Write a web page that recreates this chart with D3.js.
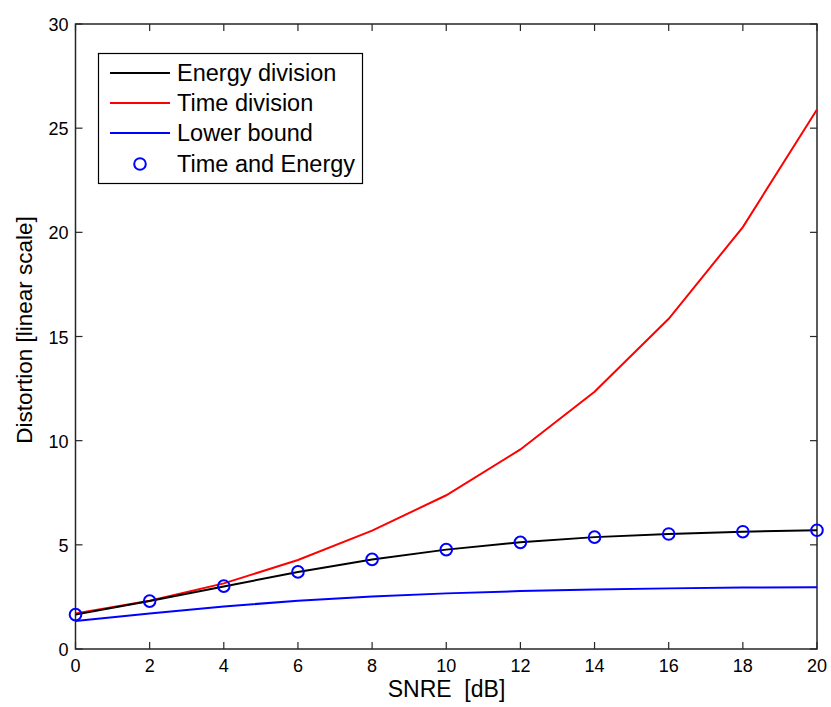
<!DOCTYPE html>
<html><head><meta charset="utf-8">
<script src="https://cdn.jsdelivr.net/npm/d3@7"></script>
<style>body{margin:0;background:#fff}svg{display:block}text{font-family:"Liberation Sans",Arial,sans-serif}</style>
</head><body>
<script>
const snre = [0,2,4,6,8,10,12,14,16,18,20];
const energyDivision = [1.65,2.3,3.0,3.7,4.3,4.77,5.12,5.37,5.52,5.63,5.7];
const timeDivision = [1.7,2.32,3.15,4.27,5.68,7.38,9.58,12.35,15.85,20.25,25.9];
const lowerBound = [1.34,1.7,2.04,2.32,2.52,2.67,2.78,2.86,2.91,2.95,2.97];
const timeAndEnergy = [1.65,2.3,3.02,3.7,4.3,4.77,5.12,5.37,5.52,5.63,5.7];
const xTicks = [0,2,4,6,8,10,12,14,16,18,20];
const yTicks = [0,5,10,15,20,25,30];
const legendLabels = ["Energy division","Time division","Lower bound","Time and Energy"];

const W=831,H=707;
const L=75.5,R=817,T=24,B=649;
const svg=d3.select("body").append("svg").attr("width",W).attr("height",H);
const x=d3.scaleLinear().domain([0,20]).range([L,R]);
const y=d3.scaleLinear().domain([0,30]).range([B,T]);

// box
svg.append("rect").attr("x",L).attr("y",T).attr("width",R-L).attr("height",B-T)
  .attr("fill","none").attr("stroke","#262626").attr("stroke-width",1.5);

// ticks inward
const tl=7;
const g=svg.append("g").attr("stroke","#262626").attr("stroke-width",1.2);
xTicks.forEach(v=>{
  g.append("line").attr("x1",x(v)).attr("x2",x(v)).attr("y1",B).attr("y2",B-tl);
  g.append("line").attr("x1",x(v)).attr("x2",x(v)).attr("y1",T).attr("y2",T+tl);
});
yTicks.forEach(v=>{
  g.append("line").attr("x1",L).attr("x2",L+tl).attr("y1",y(v)).attr("y2",y(v));
  g.append("line").attr("x1",R).attr("x2",R-tl).attr("y1",y(v)).attr("y2",y(v));
});
svg.append("g").selectAll("text").data(xTicks).join("text")
  .attr("x",d=>x(d)).attr("y",B+23).attr("text-anchor","middle")
  .attr("font-size",18).attr("fill","#000").text(d=>d);
svg.append("g").selectAll("text").data(yTicks).join("text")
  .attr("x",L-7).attr("y",d=>y(d)+7).attr("text-anchor","end")
  .attr("font-size",18).attr("fill","#000").text(d=>d);

svg.append("text").attr("x",446.5).attr("y",697).attr("text-anchor","middle")
  .attr("font-size",23).attr("xml:space","preserve").text("SNRE  [dB]");
svg.append("text").attr("transform",`translate(32,330) rotate(-90)`)
  .attr("text-anchor","middle").attr("font-size",22.5).text("Distortion [linear scale]");

const line=d3.line().x((d,i)=>x(snre[i])).y(d=>y(d));
const series=[[timeDivision,"#ff0000"],[lowerBound,"#0000ff"],[energyDivision,"#000000"]];
series.forEach(([data,c])=>{
  svg.append("path").datum(data).attr("d",line).attr("fill","none")
    .attr("stroke",c).attr("stroke-width",2);
});
svg.append("g").selectAll("circle").data(timeAndEnergy).join("circle")
  .attr("cx",(d,i)=>x(snre[i])).attr("cy",d=>y(d)).attr("r",5.8)
  .attr("fill","none").attr("stroke","#0000ff").attr("stroke-width",2);

// legend
const lg=svg.append("g");
lg.append("rect").attr("x",98.5).attr("y",53.5).attr("width",264).attr("height",130)
  .attr("fill","#fff").attr("stroke","#000").attr("stroke-width",1.2);
const rowsY=[73,103,133,164];
const lcolors=["#000000","#ff0000","#0000ff"];
legendLabels.forEach((t,i)=>{
  if(i<3){
    lg.append("line").attr("x1",110).attr("x2",170).attr("y1",rowsY[i]).attr("y2",rowsY[i])
      .attr("stroke",lcolors[i]).attr("stroke-width",2);
  } else {
    lg.append("circle").attr("cx",140).attr("cy",rowsY[i]).attr("r",5.8)
      .attr("fill","none").attr("stroke","#0000ff").attr("stroke-width",2);
  }
  lg.append("text").attr("x",177).attr("y",rowsY[i]+8).attr("font-size",23.5).text(t);
});
</script>
</body></html>
